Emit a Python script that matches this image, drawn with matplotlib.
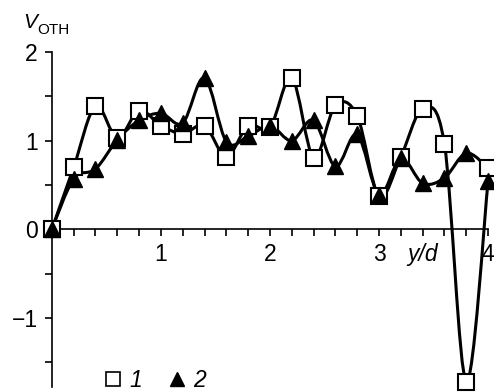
import numpy as np
import matplotlib
matplotlib.use('Agg')
import matplotlib.pyplot as plt
from matplotlib.path import Path
from matplotlib.patches import PathPatch
from matplotlib.lines import Line2D

plt.rcParams['font.family'] = ['Liberation Sans', 'DejaVu Sans']

# y/d positions and relative velocity for the two series
yd = [0.0, 0.2, 0.4, 0.6, 0.8, 1.0, 1.2, 1.4, 1.6, 1.8, 2.0,
      2.2, 2.4, 2.6, 2.8, 3.0, 3.2, 3.4, 3.6, 3.8, 4.0]
v1 = [0.0, 0.70, 1.39, 1.03, 1.34, 1.17, 1.08, 1.17, 0.82, 1.17, 1.15,
      1.71, 0.81, 1.40, 1.28, 0.37, 0.82, 1.36, 0.96, -1.72, 0.69]
v2 = [0.0, 0.57, 0.68, 1.01, 1.23, 1.31, 1.20, 1.71, 0.99, 1.05, 1.17,
      1.00, 1.23, 0.71, 1.07, 0.39, 0.80, 0.52, 0.58, 0.86, 0.54]

xticks = [1, 2, 3, 4]
yticks = [-1, 0, 1, 2]
labels = ['1', '2']


def smooth_path(xs, ys, k=1.0/6):
    # catmull-rom through the points, written as cubic bezier pieces
    pts = np.column_stack([xs, ys])
    pad = np.vstack([pts[0], pts, pts[-1]])
    verts = [pts[0]]
    codes = [Path.MOVETO]
    for i in range(len(pts) - 1):
        p0, p1, p2, p3 = pad[i], pad[i + 1], pad[i + 2], pad[i + 3]
        verts += [p1 + (p2 - p0) * k, p2 - (p3 - p1) * k, p2]
        codes += [Path.CURVE4] * 3
    return Path(verts, codes)


fig = plt.figure(figsize=(4.94, 3.92), dpi=100)
ax = fig.add_axes([0.105, 0.013, 0.883, 0.854])

# in the original the two curves swap their last markers
line1 = v1[:-1] + [v2[-1]]
line2 = v2[:-1] + [v1[-1]]
ax.add_patch(PathPatch(smooth_path(yd, line1), fill=False, lw=2.2, ec='black',
                       clip_on=False, zorder=2))
ax.add_patch(PathPatch(smooth_path(yd, line2), fill=False, lw=2.2, ec='black',
                       clip_on=False, zorder=3))

ax.plot(yd, v1, ls='none', marker='s', ms=12, mfc='white', mec='black', mew=1.5,
        clip_on=False, zorder=4)
ax.plot(yd, v2, ls='none', marker='^', ms=12, mfc='black', mec='black', mew=1,
        clip_on=False, zorder=5)

ax.set_xlim(0, 4)
ax.set_ylim(-1.78, 2)

ax.spines['top'].set_visible(False)
ax.spines['right'].set_visible(False)
ax.spines['bottom'].set_position(('data', 0))
ax.spines['left'].set_linewidth(1.2)
ax.spines['bottom'].set_linewidth(1.2)

ax.set_xticks(xticks)
ax.set_xticks(np.arange(0.2, 4.0, 0.2), minor=True)
ax.set_yticks(yticks)
ax.set_yticks([-1.5, -0.5, 0.5, 1.5], minor=True)
ax.set_xticklabels([str(t) for t in xticks])
ax.set_yticklabels(['\u22121', '0', '1', '2'])
ax.tick_params(which='both', direction='out', length=5, width=1.2, labelsize=16.5)
ax.tick_params(axis='x', pad=5)
ax.tick_params(axis='y', pad=5)

ax.text(3.4, -0.29, 'y/d', ha='center', va='center', fontsize=16.5, style='italic')
fig.text(0.046, 0.928, 'V', fontsize=15, style='italic', ha='left', va='baseline')
fig.text(0.076, 0.914, 'ОТН', fontsize=11, ha='left', va='baseline')

handles = [Line2D([], [], ls='none', marker='s', ms=9.5, mfc='white', mec='black', mew=1.2),
           Line2D([], [], ls='none', marker='^', ms=10, mfc='black', mec='black')]
ax.legend(handles, labels, ncol=2, loc='lower left', bbox_to_anchor=(0.094, -0.05),
          frameon=False, borderpad=0, handlelength=0.8, handletextpad=0.3,
          columnspacing=1.1, prop={'style': 'italic', 'size': 16.5})

fig.savefig('out.png', dpi=100)
